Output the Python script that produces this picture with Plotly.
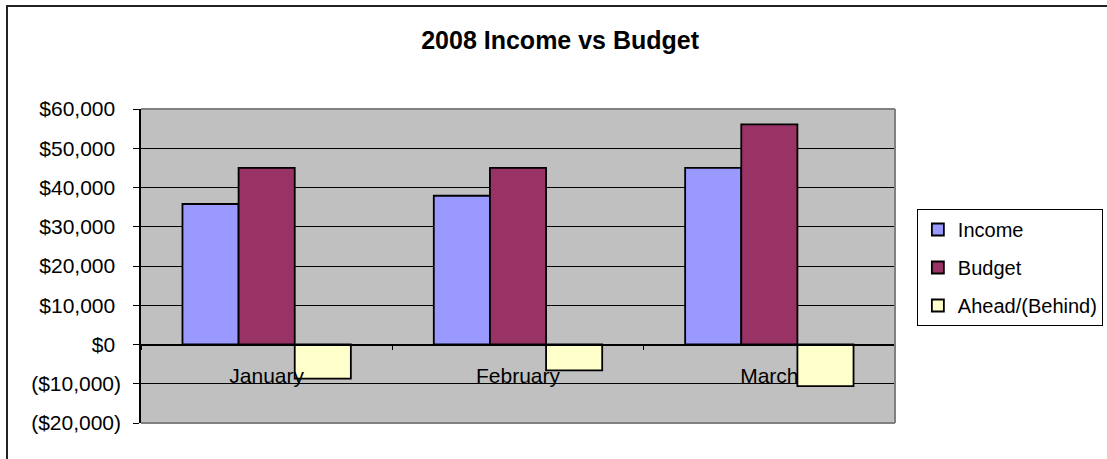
import plotly.graph_objects as go

months = ["January", "February", "March"]
income = [35800, 37900, 45000]
budget = [45000, 45000, 56100]
ahead = [-8700, -6600, -10600]

y_tickvals = [60000, 50000, 40000, 30000, 20000, 10000, 0, -10000, -20000]
y_ticktext = ["$60,000\u00a0", "$50,000\u00a0", "$40,000\u00a0", "$30,000\u00a0", "$20,000\u00a0",
              "$10,000\u00a0", "$0\u00a0", "($10,000)", "($20,000)"]

FONT = "Liberation Sans, Arial, sans-serif"
line = dict(color="black", width=1.8)

fig = go.Figure()
fig.add_trace(go.Bar(name="Income", x=months, y=income, marker=dict(color="#9999FF", line=line), legendgroup="a"))
fig.add_trace(go.Bar(name="Budget", x=months, y=budget, marker=dict(color="#993366", line=line), legendgroup="b"))
fig.add_trace(go.Bar(name="Ahead/(Behind)", x=months, y=ahead, marker=dict(color="#FFFFCC", line=line), legendgroup="c"))

ymin, ymax = -20000, 60000
zero_pos = (0 - ymin) / (ymax - ymin)

fig.update_layout(
    width=1107, height=459,
    margin=dict(l=141, r=212, t=109, b=36, autoexpand=False),
    paper_bgcolor="white",
    plot_bgcolor="#C0C0C0",
    barmode="group", bargap=0.33, bargroupgap=0,
    font=dict(family=FONT, size=20, color="black"),
    title=dict(text="<b>2008 Income vs Budget</b>", x=0.506, xref="container", xanchor="center",
               y=1 - 40 / 459, yref="container", yanchor="middle",
               font=dict(family=FONT, size=25, color="black")),
    showlegend=True,
    legend=dict(x=1.029, xanchor="left", y=(423 - 209) / 314, yanchor="top",
                bordercolor="black", borderwidth=1, bgcolor="white",
                font=dict(family=FONT, size=20), tracegroupgap=9, itemwidth=30,
                traceorder="grouped"),
    xaxis=dict(anchor="free", position=zero_pos, showline=True, linecolor="black", linewidth=1,
               ticks="outside", ticklen=4, tickcolor="black", tickson="boundaries",
               showgrid=False, ticklabelstandoff=12, tickfont=dict(size=21)),
    yaxis=dict(range=[ymin, ymax], tickvals=y_tickvals, ticktext=y_ticktext,
               showgrid=True, gridcolor="black", gridwidth=1, zeroline=False,
               showline=True, linecolor="black", linewidth=1.5,
               ticks="outside", ticklen=6, tickcolor="black",
               ticklabelstandoff=8, tickfont=dict(size=21)),
)

# plot-area frame (top, right, bottom) and chart-area border
gray = dict(color="#808080", width=2)
fig.add_shape(type="line", xref="paper", yref="paper", x0=0, x1=1, y0=1, y1=1, line=gray)
fig.add_shape(type="line", xref="paper", yref="paper", x0=1, x1=1, y0=0, y1=1, line=gray)
fig.add_shape(type="line", xref="paper", yref="paper", x0=0, x1=1, y0=0, y1=0, line=gray)
fig.add_shape(type="rect", xref="paper", yref="paper",
              x0=(7 - 141) / 754, x1=1.6, y0=-0.5, y1=(423 - 6) / 314,
              line=dict(color="#222222", width=2), fillcolor="rgba(0,0,0,0)")

fig.write_html("out.html")
